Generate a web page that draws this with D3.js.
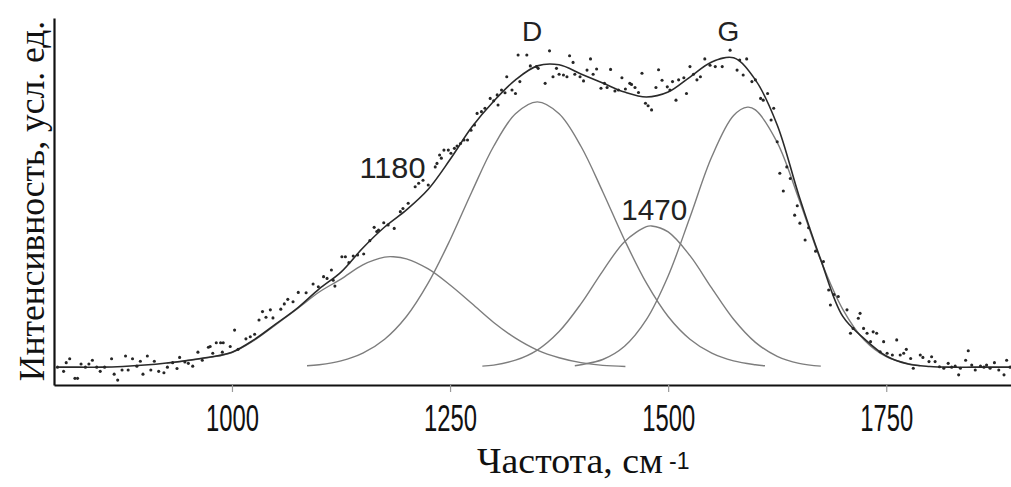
<!DOCTYPE html>
<html>
<head>
<meta charset="utf-8">
<script src="https://cdn.jsdelivr.net/npm/d3@7"></script>
<style>
  html, body { margin: 0; padding: 0; background: #fff; }
  svg { display: block; }
</style>
</head>
<body>
<svg id="chart" width="1011" height="487"></svg>
<script>
// ---------- data ----------
const xTicks = [1000, 1250, 1500, 1750];
const xTickLabels = ["1000", "1250", "1500", "1750"];
const xTitle = "Частота, см";
const xTitleSup = "-1";
const yTitle = "Интенсивность, усл. ед.";

// fitted total curve
const totalFreq = [800,825,850,875,900,925,950,975,1000,1025,1050,1075,1100,1125,1150,1175,1200,1225,1250,1275,1300,1325,1350,1375,1400,1425,1450,1475,1500,1525,1550,1575,1600,1625,1650,1675,1700,1725,1750,1775,1800,1825,1850,1875,1893];
const totalValue = [0.1,0.1,0.1,0.3,0.7,1.3,2.1,3.0,4.4,7.9,12.4,17.0,22.5,27.3,34.2,40.2,45.1,51.0,59.5,68.8,76.2,82.3,86.3,86.6,84.0,81.4,78.8,77.4,78.8,83.1,87.4,88.6,82.3,69.4,49.1,30.8,14.7,8.2,3.3,1.0,0.3,0.1,0.1,0.1,0.1];

// component bands
const band1180Freq = [925,950,975,1000,1025,1050,1075,1100,1125,1150,1175,1185,1200,1225,1250,1275,1300,1325,1350,1375,1400,1425,1451];
const band1180Value = [1.2,2.0,2.9,4.3,7.7,12.2,16.8,21.6,25.3,29.4,31.6,31.7,31.1,28.2,23.6,18.3,12.9,8.4,5.0,2.8,1.4,0.6,0.3];

const bandDFreq = [1086,1100,1125,1150,1175,1200,1225,1250,1275,1300,1325,1350,1375,1400,1425,1450,1475,1500,1525,1550,1575,1600,1611];
const bandDValue = [0.5,0.8,1.9,4.1,8.1,14.6,24.2,36.5,50.3,63.3,72.6,76.0,72.6,63.3,50.3,36.5,24.2,14.6,8.1,4.1,1.9,0.8,0.5];

const band1470Freq = [1287,1300,1325,1350,1375,1400,1425,1450,1475,1481,1500,1525,1550,1575,1600,1625,1650,1675];
const band1470Value = [0.4,0.7,2.1,5.0,10.3,18.2,27.6,36.0,40.3,40.5,38.8,32.0,22.7,13.8,7.2,3.2,1.2,0.4];

const bandGFreq = [1393,1400,1425,1450,1475,1500,1525,1550,1575,1591,1600,1625,1650,1675,1700,1725,1750,1775,1789];
const bandGValue = [0.5,0.8,2.3,6.1,13.7,26.2,43.0,60.3,72.1,74.5,73.7,64.4,48.1,30.6,16.7,7.8,3.1,1.1,0.5];

// measured points
const pointFreq = [800,807,810,814,820,823,827,832,836,840,845,849,854,862,865,869,874,878,881,886,891,895,898,903,907,911,916,922,926,932,937,940,946,950,955,961,966,973,978,982,987,989,
975,990,998,1003,1007,1016,1021,1026,1031,1035,1039,1044,1047,1056,1060,1064,1070,1076,1085,1093,1099,1105,1109,1114,1116,1118,1126,1130,1134,1139,1144,1151,1158,1163,1166,
1168,1174,1179,1186,1193,1196,1202,1210,1214,1219,1225,1233,1235,1238,1240,1243,1248,1251,1255,1258,1262,1266,1270,1274,1278,1281,1286,1290,1296,1300,1304,1305,1309,1313,1315,1321,1325,1330,1328,1338,1342,1349,
1364,1351,1359,1368,1372,1375,1380,1384,1387,1391,1393,1399,1403,1407,1411,1414,1418,1423,1427,1430,1434,1439,1443,1447,1451,1456,1458,1462,1466,1470,1474,1477,1481,1486,1489,1493,1499,1502,1505,1509,1512,1518,1521,1525,1529,1533,
1537,1542,1548,1554,1562,1571,1579,1582,1586,1590,1596,1600,1606,1609,1614,1618,1621,1625,1628,1632,1636,1640,1645,1648,1651,1657,1661,1669,1678,1684,1686,1690,1695,1705,1709,1712,1718,
1720,1724,1728,1732,1735,1739,1743,1747,1751,1757,1762,1766,1770,1773,1778,1781,1789,1792,1799,1802,1806,1811,1816,1821,1825,1829,1833,1835,1841,1844,1848,1852,1858,1862,1865,1869,1874,1879,1885,1888,1892];
const pointIntensity = [0.1,-1.1,1.4,2.5,-3.1,-3.1,1.0,0.1,1.0,2.1,0.1,-1.1,0.1,2.5,-1.9,-3.6,-0.7,3.3,-0.7,2.5,0.4,1.8,-1.9,3.3,-0.7,1.8,-1.1,-1.5,0.1,1.4,-0.3,2.9,1.6,1.2,0.4,4.4,2.1,5.8,4.1,7.1,7.1,4.4,
6.0,7.1,6.0,10.7,5.2,8.2,8.8,9.5,13.6,16.0,14.4,16.5,14.2,16.7,18.2,19.5,18.8,21.5,21.4,23.9,23.1,26.0,25.5,27.9,25.0,23.3,31.7,31.7,30.0,31.9,32.2,32.5,36.3,40.1,38.9,
39.3,41.4,40.8,39.8,44.6,45.5,47.0,51.7,52.7,53.6,52.2,57.4,58.4,60.8,59.9,62.2,62.2,61.3,62.7,63.4,64.1,65.1,65.1,67.9,69.4,72.7,73.2,74.2,77.0,76.3,78.0,75.1,79.4,78.6,83.2,79.4,78.4,81.8,89.4,89.4,86.3,86.1,
90.6,85.6,81.3,83.2,85.6,83.9,83.7,83.2,89.2,87.3,83.9,83.2,82.0,85.1,88.3,83.9,85.4,79.9,81.3,80.1,85.3,79.1,79.4,82.9,79.7,81.3,81.0,80.1,78.7,84.2,75.6,74.9,73.7,80.1,85.2,82.2,80.3,79.4,81.8,76.5,82.3,82.9,78.4,86.1,83.9,82.3,
83.2,88.3,86.5,86.1,86.1,90.8,85.1,88.0,83.7,88.3,81.8,82.3,77.0,76.5,78.4,70.8,74.2,64.6,55.6,50.5,57.4,54.1,43.6,46.3,41.3,36.5,40.0,33.3,30.3,22.2,17.9,20.9,20.3,16.5,9.8,11.2,14.1,
15.5,11.2,9.8,7.4,10.2,9.8,4.5,7.4,4.1,3.6,7.9,3.6,4.1,5.2,2.6,-0.2,3.6,2.9,1.7,3.1,1.7,0.2,-0.2,1.2,0.1,0.4,-2.1,-0.2,2.1,4.8,0.7,-0.7,0.4,0.1,0.7,-0.2,1.4,-0.7,-2.1,2.1,0.1];

// peak annotations
const peakLabels = ["1180", "D", "1470", "G"];
const peakLabelFreq = [1184, 1344, 1484, 1569];
const peakLabelValue = [54.3, 93.4, 42.2, 93.4];

// ---------- drawing ----------
const svg = d3.select("#chart");
const x = d3.scaleLinear().domain([796, 1893]).range([54, 1011]);
const y = d3.scaleLinear().domain([-5, 100]).range([385, 18]);

const line = d3.line()
  .x(d => x(d[0]))
  .y(d => y(d[1]))
  .curve(d3.curveCatmullRom.alpha(0.5));

const bands = [
  [band1180Freq, band1180Value],
  [bandDFreq, bandDValue],
  [band1470Freq, band1470Value],
  [bandGFreq, bandGValue]
];
svg.append("g").selectAll("path").data(bands).join("path")
  .attr("d", b => line(b[0].map((f, i) => [f, b[1][i]])))
  .attr("fill", "none")
  .attr("stroke", "#7d7d7d")
  .attr("stroke-width", 1.4);

svg.append("path")
  .attr("d", line(totalFreq.map((f, i) => [f, totalValue[i]])))
  .attr("fill", "none")
  .attr("stroke", "#2a2a2a")
  .attr("stroke-width", 1.6);

svg.append("g").selectAll("circle").data(pointFreq.map((f, i) => [f, pointIntensity[i]])).join("circle")
  .attr("cx", d => x(d[0]))
  .attr("cy", d => y(d[1]))
  .attr("r", 1.55)
  .attr("fill", "#262626");

// axes
const xAxis = d3.axisBottom(x)
  .tickValues(xTicks)
  .tickFormat((d, i) => xTickLabels[i])
  .tickSize(7)
  .tickSizeOuter(0);
const gx = svg.append("g").attr("transform", "translate(0,385)").call(xAxis);
gx.select(".domain").attr("stroke", "#111").attr("stroke-width", 2.2);
gx.selectAll(".tick line").attr("stroke", "#9a9a9a").attr("stroke-width", 1.2);
gx.selectAll(".tick text")
  .attr("y", 46).attr("dy", 0)
  .attr("fill", "#111")
  .style("font-family", "'Liberation Sans Narrow','Liberation Sans',Arial,sans-serif")
  .style("font-size", "37px")
  .attr("textLength", 53)
  .attr("lengthAdjust", "spacingAndGlyphs");

const yAxis = d3.axisLeft(y).tickValues([]).tickSizeOuter(0);
const gy = svg.append("g").attr("transform", "translate(54,0)").call(yAxis);
gy.select(".domain").attr("stroke", "#111").attr("stroke-width", 2.2);

// axis titles
svg.append("text")
  .attr("x", 477).attr("y", 473)
  .attr("fill", "#111")
  .style("font-family", "'Liberation Serif','Times New Roman',serif")
  .style("font-size", "35px")
  .attr("textLength", 186)
  .attr("lengthAdjust", "spacingAndGlyphs")
  .text(xTitle);
svg.append("text")
  .attr("x", 669).attr("y", 469)
  .attr("fill", "#111")
  .style("font-family", "'Liberation Sans',Arial,sans-serif")
  .style("font-size", "23px")
  .text(xTitleSup);

svg.append("text")
  .attr("transform", "translate(44,201) rotate(-90)")
  .attr("text-anchor", "middle")
  .attr("fill", "#111")
  .style("font-family", "'Liberation Serif','Times New Roman',serif")
  .style("font-size", "35.5px")
  .text(yTitle);

// peak labels
svg.append("g").selectAll("text").data(peakLabels).join("text")
  .attr("x", (d, i) => x(peakLabelFreq[i]))
  .attr("y", (d, i) => y(peakLabelValue[i]))
  .attr("text-anchor", "middle")
  .attr("fill", "#222")
  .style("font-family", "'Liberation Sans',Arial,sans-serif")
  .style("font-size", d => d.length > 1 ? "30px" : "28px")
  .attr("textLength", d => d.length > 1 ? 66 : null)
  .attr("lengthAdjust", "spacingAndGlyphs")
  .text(d => d);
</script>
</body>
</html>
